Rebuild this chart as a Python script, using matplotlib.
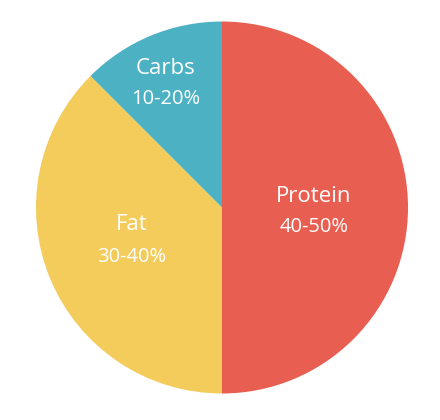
import matplotlib.pyplot as plt

categories = ['Protein', 'Fat', 'Carbs']
shares = [50, 37.5, 12.5]
ranges = ['40-50%', '30-40%', '10-20%']
colors = ['#E85F51', '#F3CC5C', '#4CB2C3']

# label anchor points (name, range) in axes data units
label_pos = {
    'Protein': ((0.495, 0.058), (0.495, -0.105)),
    'Fat': ((-0.485, -0.089), (-0.485, -0.265)),
    'Carbs': ((-0.303, 0.748), (-0.303, 0.583)),
}

fig = plt.figure(figsize=(4.4, 4.2), dpi=100)
ax = fig.add_axes([0.0818, 0.0631, 0.8455, 0.8857])

ax.pie(shares, colors=colors, startangle=90, counterclock=False,
       radius=1, wedgeprops={'linewidth': 0})

for cat, rng in zip(categories, ranges):
    (nx, ny), (rx, ry) = label_pos[cat]
    ax.text(nx, ny, cat, ha='center', va='center', color='white',
            fontsize=16, family='Open Sans')
    ax.text(rx, ry, rng, ha='center', va='center', color='white',
            fontsize=14.5, family='Open Sans')

ax.set_xlim(-1, 1)
ax.set_ylim(-1, 1)
ax.set_aspect('auto')
ax.axis('off')

plt.savefig('out.png')
